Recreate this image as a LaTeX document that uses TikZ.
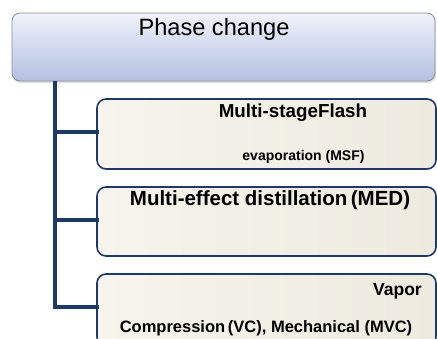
\documentclass[tikz,border=0pt]{standalone}
\usepackage{fontspec}
\setmainfont{Liberation Sans}
\usetikzlibrary{shadows}
\definecolor{navy}{HTML}{1F3864}
\definecolor{topA}{HTML}{F0F2FA}
\definecolor{topB}{HTML}{B4C0E2}
\definecolor{cream}{HTML}{EEEAE0}
\definecolor{creamL}{HTML}{F6F4EC}
\definecolor{frame}{HTML}{8A8C94}
\tikzset{
  headbox/.style={draw=frame, line width=0.8pt, rounded corners=8pt,
    top color=topA, bottom color=topB,
    drop shadow={shadow xshift=1pt, shadow yshift=-2pt, opacity=0.25}},
  itembox/.style={draw=navy, line width=1.6pt, rounded corners=9pt,
    left color=creamL, right color=cream},
  link/.style={draw=navy, line width=4.5pt},
  lbl/.style={anchor=base, inner sep=0pt, font=\bfseries}
}
\begin{document}
\begin{tikzpicture}[x=1pt, y=-1pt]
\useasboundingbox (0,0) rectangle (437,338);
\clip (0,0) rectangle (437,338);

% header box
\path[headbox] (12,13) rectangle (435,81);
\node[anchor=base, inner sep=0pt, font=\fontsize{23.6}{26}\selectfont] (head) at (214,35) {Phase change};

% method boxes
\path[itembox] (97,99) rectangle (436,169);
\path[itembox] (97,187) rectangle (436,256);
\path[itembox] (97,274) rectangle (436,346);

\coordinate (top) at (55,81);
\coordinate (j1) at (55,132);
\coordinate (j2) at (55,220);
\coordinate (j3) at (55,307);
\coordinate (b1) at (97,132);
\coordinate (b2) at (97,220);
\coordinate (b3) at (97,307);

% tree connectors
\draw[link] (top) -- (j3);
\draw[link, line cap=rect] (j1) -- (b1);
\draw[link, line cap=rect] (j2) -- (b2);
\draw[link, line cap=rect] (j3) -- (b3);

% labels
\node[lbl, font=\bfseries\fontsize{18.8}{20}\selectfont] (msf1) at (293,117) {Multi-stageFlash};
\node[lbl, font=\bfseries\fontsize{14}{16}\selectfont] (msf2) at (303.5,160) {evaporation (MSF)};
\node[lbl, font=\bfseries\fontsize{20.5}{22}\selectfont] (med) at (270,205) {Multi-effect distillation\,(MED)};
\node[lbl, anchor=base east, font=\bfseries\fontsize{17.5}{20}\selectfont] (vc1) at (422,295) {Vapor};
\node[lbl, font=\bfseries\fontsize{16.5}{18}\selectfont] (vc2) at (266,332) {Compression\,(VC), Mechanical (MVC)};
\end{tikzpicture}
\end{document}
